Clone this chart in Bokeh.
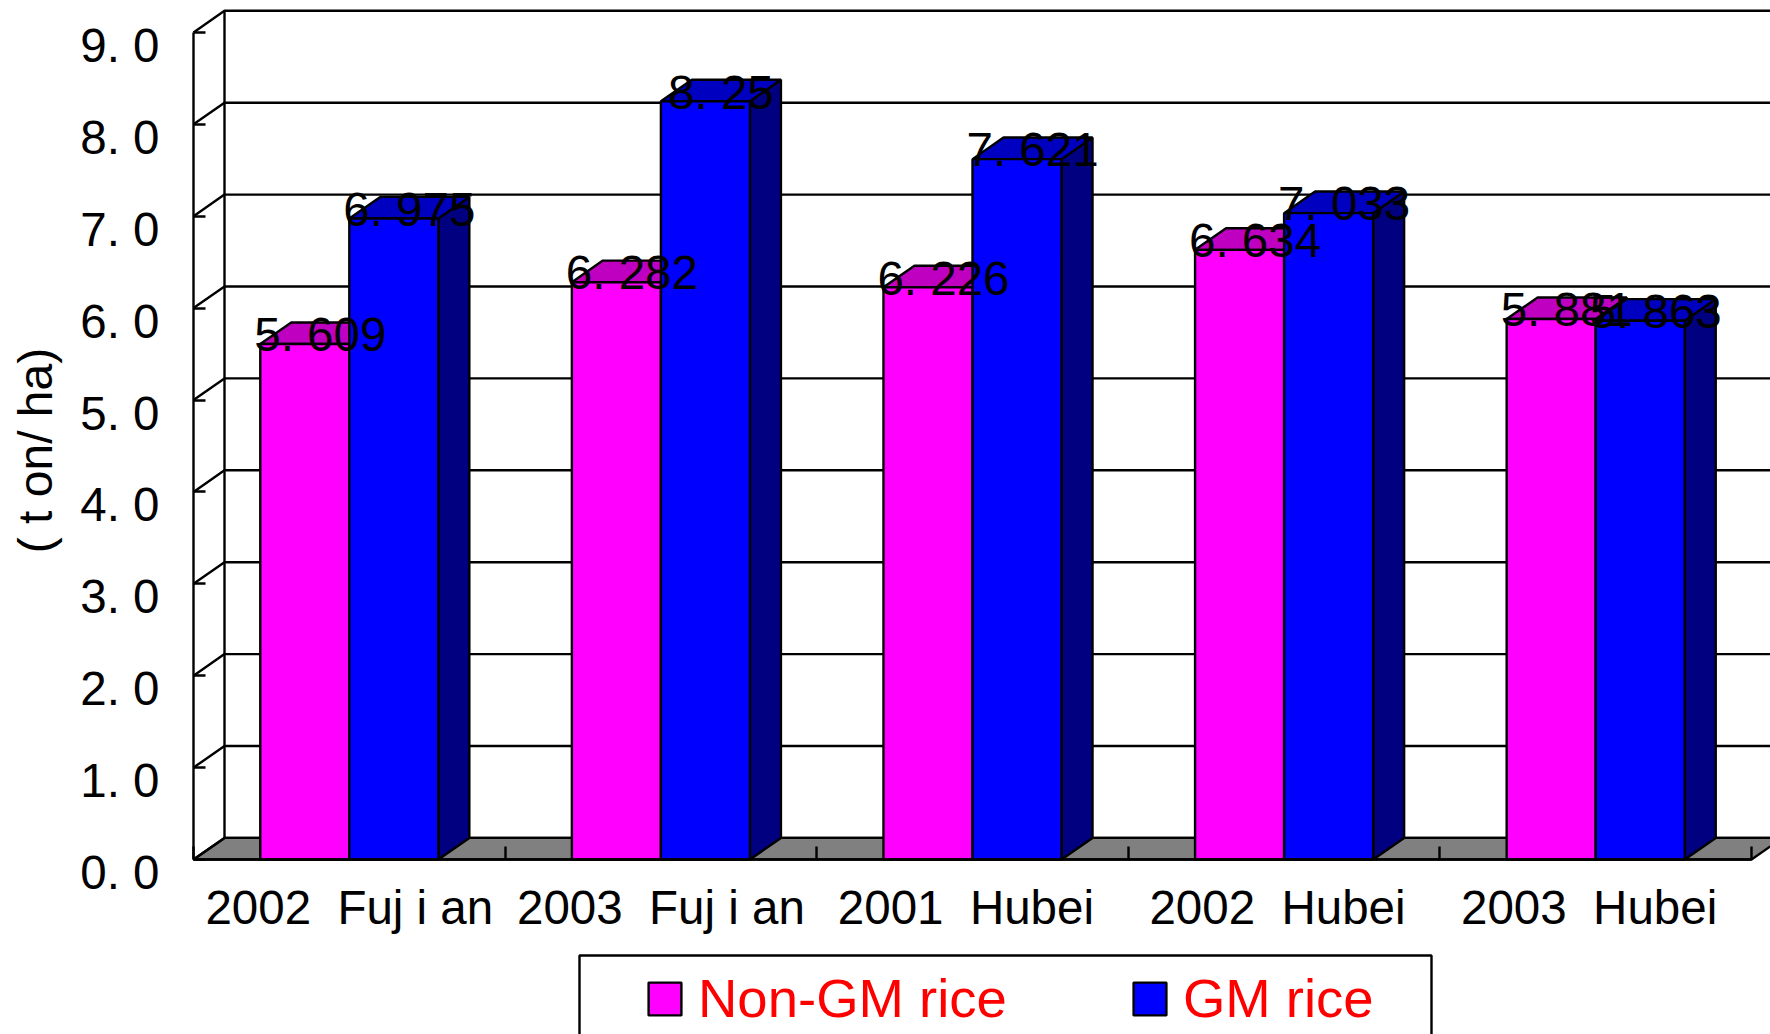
import numpy as np
from bokeh.embed import file_html
from bokeh.resources import INLINE
from bokeh.plotting import figure
from bokeh.core.properties import value
from bokeh.models import (BoxAnnotation, FixedTicker, Label, Legend, LegendItem,
                          LinearAxis, Range1d)

# ---- data ----
NB = "\u00a0"
categories = ["2002  Fujian", "2003  Fujian", "2001  Hubei", "2002  Hubei", "2003  Hubei"]
category_labels = [f"2002{NB}{NB}Fuj i an", f"2003{NB}{NB}Fuj i an",
                   f"2001{NB}{NB}Hubei{NB}", f"2002{NB}{NB}Hubei{NB}", f"2003{NB}{NB}Hubei{NB}"]
non_gm = [5.609, 6.282, 6.226, 6.634, 5.881]
gm = [6.975, 8.25, 7.621, 7.033, 5.863]
y_ticks = [0, 1, 2, 3, 4, 5, 6, 7, 8, 9]
y_tick_labels = ["0. 0", "1. 0", "2. 0", "3. 0", "4. 0", "5. 0", "6. 0", "7. 0", "8. 0", "9. 0"]
y_title = "( t on/ ha)"
series_names = ["Non-GM rice", "GM rice"]

# ---- layout in page pixels ----
FONT = "Liberation Sans"
FS = "47.5px"
W, H = 1770, 1034
X0, CAT_W = 193.0, 311.6        # front axis, width of a category
Y0, UNIT = 859.0, 91.9          # front floor line, px per 1 t/ha
DX_PX, DY_PX = 31.0, 21.6       # 3-D depth
GAP = 1.5                       # gap width as a multiple of a bar
LW = 2.4

bar_w = 1 / (2 + GAP)
dx, dy = DX_PX / CAT_W, DY_PX / UNIT

x_range = Range1d(-X0 / CAT_W, (W - X0) / CAT_W)
y_range = Range1d((Y0 - H) / UNIT, Y0 / UNIT)

p = figure(width=W, height=H, x_range=x_range, y_range=y_range,
           output_backend="svg", toolbar_location=None,
           x_axis_location=None, y_axis_location=None,
           min_border=0, min_border_left=0, min_border_right=0,
           min_border_top=0, min_border_bottom=0, outline_line_color=None)
p.grid.visible = False
p.background_fill_color = "white"

n = len(categories)
ymax = y_ticks[-1]

# floor
p.patch([0, n, n + dx, dx], [0, 0, dy, dy], fill_color="#808080",
        line_color="black", line_width=LW)
# back wall: horizontal grid lines, diagonals, left edge
p.multi_line([[0, dx, n + dx] for _ in y_ticks],
             [[v, v + dy, v + dy] for v in y_ticks],
             line_color="black", line_width=LW)
p.line([dx, dx], [dy, ymax + dy], line_color="black", line_width=LW)

# bars
left = np.arange(n) + (1 - 2 * bar_w) / 2
styles = [("#FF00FF", "#C000C0", "#800080"), ("#0000FF", "#0000C0", "#000080")]
fronts = []
for k, (vals, (front, top, side)) in enumerate(zip([non_gm, gm], styles)):
    x0 = left + k * bar_w
    x1 = x0 + bar_w
    v = np.array(vals)
    p.patches([[b, b + dx, b + dx, b] for b in x1],
              [[0, dy, t + dy, t] for t in v],
              fill_color=side, line_color="black", line_width=LW)
    p.patches([[a, b, b + dx, a + dx] for a, b in zip(x0, x1)],
              [[t, t, t + dy, t + dy] for t in v],
              fill_color=top, line_color="black", line_width=LW)
    fronts.append(p.quad(left=x0, right=x1, bottom=0, top=v, fill_color=front,
                         line_color="black", line_width=LW))

# value labels
for k, vals in enumerate([non_gm, gm]):
    x0 = left + k * bar_w
    p.text(x=x0 + (bar_w + dx) / 2, y=np.array(vals) + dy / 2,
           text=[f"{v}".replace(".", ". ") for v in vals],
           text_font=value(FONT), text_font_size=value(FS), y_offset=1.5,
           text_color="black", text_align="center", text_baseline="middle")

# front y axis with its inner ticks
y_line = LinearAxis(ticker=FixedTicker(ticks=y_ticks), bounds=(0, ymax), fixed_location=0,
                    major_tick_in=12, major_tick_out=0, minor_tick_line_color=None,
                    axis_line_color="black", axis_line_width=LW,
                    major_tick_line_color="black", major_tick_line_width=LW,
                    major_label_text_color=None, major_label_text_font_size="1px")
p.add_layout(y_line, "left")

# y tick labels sit lower than their ticks in the original
LAB_SHIFT = 13.0
p.extra_y_ranges["ylab"] = Range1d((Y0 + LAB_SHIFT - H) / UNIT, (Y0 + LAB_SHIFT) / UNIT)
y_lab = LinearAxis(y_range_name="ylab", ticker=FixedTicker(ticks=y_ticks),
                   fixed_location=(170 - X0) / CAT_W,
                   major_label_overrides=dict(zip(y_ticks, y_tick_labels)),
                   major_tick_line_color=None, minor_tick_line_color=None, axis_line_color=None,
                   major_tick_in=0, major_tick_out=0, major_label_standoff=11,
                   major_label_text_font=FONT, major_label_text_font_size=FS,
                   major_label_text_color="black")
p.add_layout(y_lab, "left")

# front x axis with its ticks
x_ticks = list(range(n + 1))
x_line = LinearAxis(ticker=FixedTicker(ticks=x_ticks), bounds=(0, n), fixed_location=0,
                    major_tick_in=13, major_tick_out=0, minor_tick_line_color=None,
                    axis_line_color="black", axis_line_width=LW,
                    major_tick_line_color="black", major_tick_line_width=LW,
                    major_label_text_color=None, major_label_text_font_size="1px")
p.add_layout(x_line, "below")

# category labels
cat_pos = [i + 0.5 for i in range(n)]
x_lab = LinearAxis(ticker=FixedTicker(ticks=cat_pos), fixed_location=0,
                   major_label_overrides=dict(zip(cat_pos, category_labels)),
                   major_tick_line_color=None, minor_tick_line_color=None, axis_line_color=None,
                   major_tick_in=0, major_tick_out=0, major_label_standoff=21,
                   major_label_text_font=FONT, major_label_text_font_size=FS,
                   major_label_text_color="black")
p.add_layout(x_lab, "below")

# y title
p.add_layout(Label(x=35, y=H - 450, x_units="screen", y_units="screen",
                   text=y_title, angle=np.pi / 2, text_font=FONT, text_font_size="48px",
                   text_color="black", text_align="center", text_baseline="alphabetic"))

# legend frame (cut by the page edge, as in the original)
p.add_layout(BoxAnnotation(left=579, right=1431, top=H - 955, bottom=-40,
                           left_units="screen", right_units="screen",
                           top_units="screen", bottom_units="screen",
                           fill_color=None, fill_alpha=0, line_color="black", line_alpha=1,
                           line_width=LW, editable=False))
legend = Legend(items=[LegendItem(label=value(series_names[0]), renderers=[fronts[0]]),
                       LegendItem(label=value(series_names[1]), renderers=[fronts[1]])],
                orientation="horizontal", location=(644, H - 1030),
                padding=0, margin=0, spacing=122, glyph_width=41, glyph_height=41,
                label_standoff=13, label_text_font=FONT, label_text_font_size="54.5px",
                label_text_color="#FF0000", label_text_baseline="middle",
                border_line_color=None, background_fill_color=None, background_fill_alpha=0,
                click_policy="none")
p.add_layout(legend, "center")

open("out.html", "w").write(file_html(p, INLINE))
